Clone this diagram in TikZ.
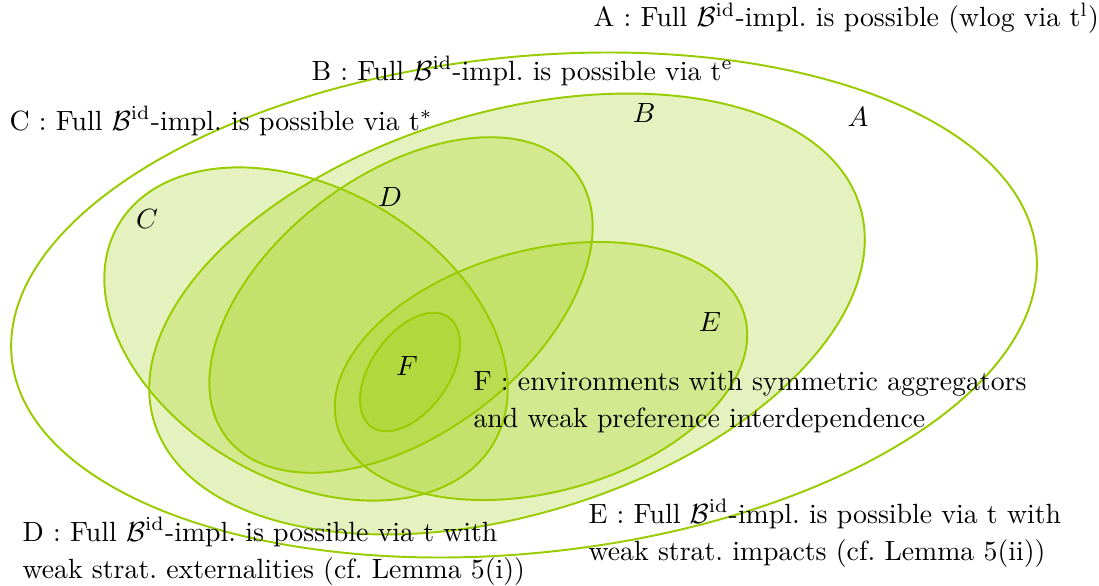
\documentclass[tikz,border=0pt]{standalone}
\usepackage{amsmath, amssymb}
\usepackage{tikz}
\usetikzlibrary{positioning}
\usepackage{xcolor}
\definecolor{vennGreen}{HTML}{99CC00}
\definecolor{vennText}{HTML}{000000}

\newcommand{\Bid}{$\mathcal{B}^{\mathrm{id}}$}

\begin{document}
\begin{tikzpicture}[x=0.01265cm, y=-0.01265cm,
    conjunto/.style={draw=vennGreen, line width=0.7pt, fill=vennGreen, fill opacity=0.25},
    etiqueta/.style={anchor=base west, inner sep=0pt, align=left, text=vennText,
      font=\fontsize{10}{13.3}\selectfont},
    letra/.style={inner sep=0pt, text=vennText, font=\fontsize{10}{12}\selectfont}]
        \useasboundingbox (0,0) rectangle (1099,585);
        % Conjunto A (solo borde)
        \draw[draw=vennGreen, line width=0.7pt, rotate around={6:(524,305)}]
          (524,305) ellipse [x radius=515, y radius=248];
        % Conjuntos B, C, D, E, F (relleno transparente)
        \filldraw[conjunto, rotate around={17:(507,314)}]
          (507,314) ellipse [x radius=369, y radius=201];
        \filldraw[conjunto, rotate around={-30:(306,334)}]
          (306,334) ellipse [x radius=217, y radius=146];
        \filldraw[conjunto, rotate around={37:(401,305)}]
          (401,305) ellipse [x radius=219, y radius=130];
        \filldraw[conjunto, rotate around={15:(541,371)}]
          (541,371) ellipse [x radius=211, y radius=121];
        \filldraw[conjunto, rotate around={55:(410,372)}]
          (410,372) ellipse [x radius=67, y radius=39];
        % Letras dentro de los conjuntos
        \node[letra] (labA) at (858,117) {$A$};
        \node[letra] (labB) at (644,113) {$B$};
        \node[letra] (labC) at (147,219) {$C$};
        \node[letra] (labD) at (390,197) {$D$};
        \node[letra] (labE) at (710,322) {$E$};
        \node[letra] (labF) at (407,366) {$F$};
        % Descripciones (ancla en la linea de base de la ultima linea)
        \node[etiqueta] (txtA) at (593,27)
          {A : Full \Bid-impl.\ is possible (wlog via t$^{\mathrm{l}}$)};
        \node[etiqueta] (txtB) at (311,80)
          {B : Full \Bid-impl.\ is possible via t$^{\mathrm{e}}$};
        \node[etiqueta] (txtC) at (9,130)
          {C : Full \Bid-impl.\ is possible via t$^{*}$};
        \node[etiqueta] (txtD) at (22,578)
          {D : Full \Bid-impl.\ is possible via t with\\
           weak strat.\ externalities (cf.\ Lemma 5(i))};
        \node[etiqueta] (txtE) at (588,560)
          {E : Full \Bid-impl.\ is possible via t with\\
           weak strat.\ impacts (cf.\ Lemma 5(ii))};
        \node[etiqueta] (txtF) at (473,427)
          {F : environments with symmetric aggregators\\
           and weak preference interdependence};
      \end{tikzpicture}
\end{document}
